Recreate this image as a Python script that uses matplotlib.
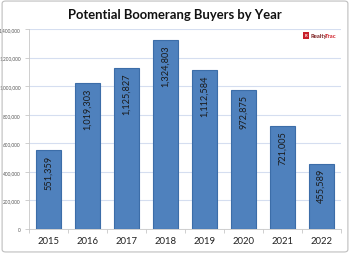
import matplotlib
matplotlib.use('Agg')
import matplotlib.pyplot as plt
from matplotlib.patches import Rectangle, FancyBboxPatch

years = ['2015', '2016', '2017', '2018', '2019', '2020', '2021', '2022']
buyers = [551359, 1019303, 1125827, 1324803, 1112584, 972875, 721005, 455589]
yticks = [0, 200000, 400000, 600000, 800000, 1000000, 1200000, 1400000]

plt.rcParams['font.family'] = ['Lato', 'DejaVu Sans']

fig = plt.figure(figsize=(3.5, 2.55), dpi=100)
ax = fig.add_axes([0.083, 0.098, 0.891, 0.784])

x = range(len(years))
ax.bar(x, buyers, width=0.66, color='#4F81BD', edgecolor='#3C6DA8', linewidth=0.8, zorder=3)

for i, v in enumerate(buyers):
    ax.annotate(f'{v:,}', (i, v), xytext=(0, -3), textcoords='offset points',
                rotation=90, ha='center', va='top', fontsize=6.6, color='#1a1a1a', zorder=4)

ax.set_xlim(-0.5, len(years) - 0.5)
ax.set_ylim(0, 1400000)
ax.set_yticks(yticks)
ax.set_yticklabels([f'{t:,}' for t in yticks], fontsize=3.4, color='#555555')
ax.set_xticks(list(x))
ax.set_xticklabels(years, fontsize=6.8, color='#222222')
ax.set_xticks([i + 0.5 for i in range(-1, len(years))], minor=True)
ax.tick_params(axis='x', which='major', length=0, pad=5)
ax.tick_params(axis='x', which='minor', length=3, color='#c8c8c8', width=0.6)
ax.tick_params(axis='y', length=3, color='#c8c8c8', width=0.6, pad=3)

ax.grid(axis='y', color='#d5def0', linewidth=0.8, zorder=0)
for s in ['top', 'right']:
    ax.spines[s].set_visible(False)
ax.spines['left'].set_color('#c8c8c8')
ax.spines['bottom'].set_color('#c8c8c8')
ax.spines['left'].set_linewidth(0.6)
ax.spines['bottom'].set_linewidth(0.6)

fig.text(0.5, 0.94, 'Potential Boomerang Buyers by Year', ha='center', va='center',
         fontsize=9.4, fontweight='bold', color='#111111')

# logo
fig.patches.append(Rectangle((0.866, 0.845), 0.017, 0.024, transform=fig.transFigure,
                             facecolor='#c8202a', edgecolor='none'))
fig.text(0.874, 0.857, 'R', ha='center', va='center', fontsize=3, color='white', fontweight='bold')
fig.text(0.886, 0.857, 'Realty', ha='left', va='center', fontsize=4.2, color='#7a1e1e', fontweight='bold')
fig.text(0.929, 0.857, 'Trac', ha='left', va='center', fontsize=4.2, color='#d0202a', fontweight='bold')

# figure border
fig.patches.append(FancyBboxPatch((0.006, 0.008), 0.988, 0.984, boxstyle='round,pad=0,rounding_size=0.01',
                                  transform=fig.transFigure, facecolor='none', edgecolor='#bfbfbf', linewidth=0.8))

fig.savefig('out.png', dpi=100)
